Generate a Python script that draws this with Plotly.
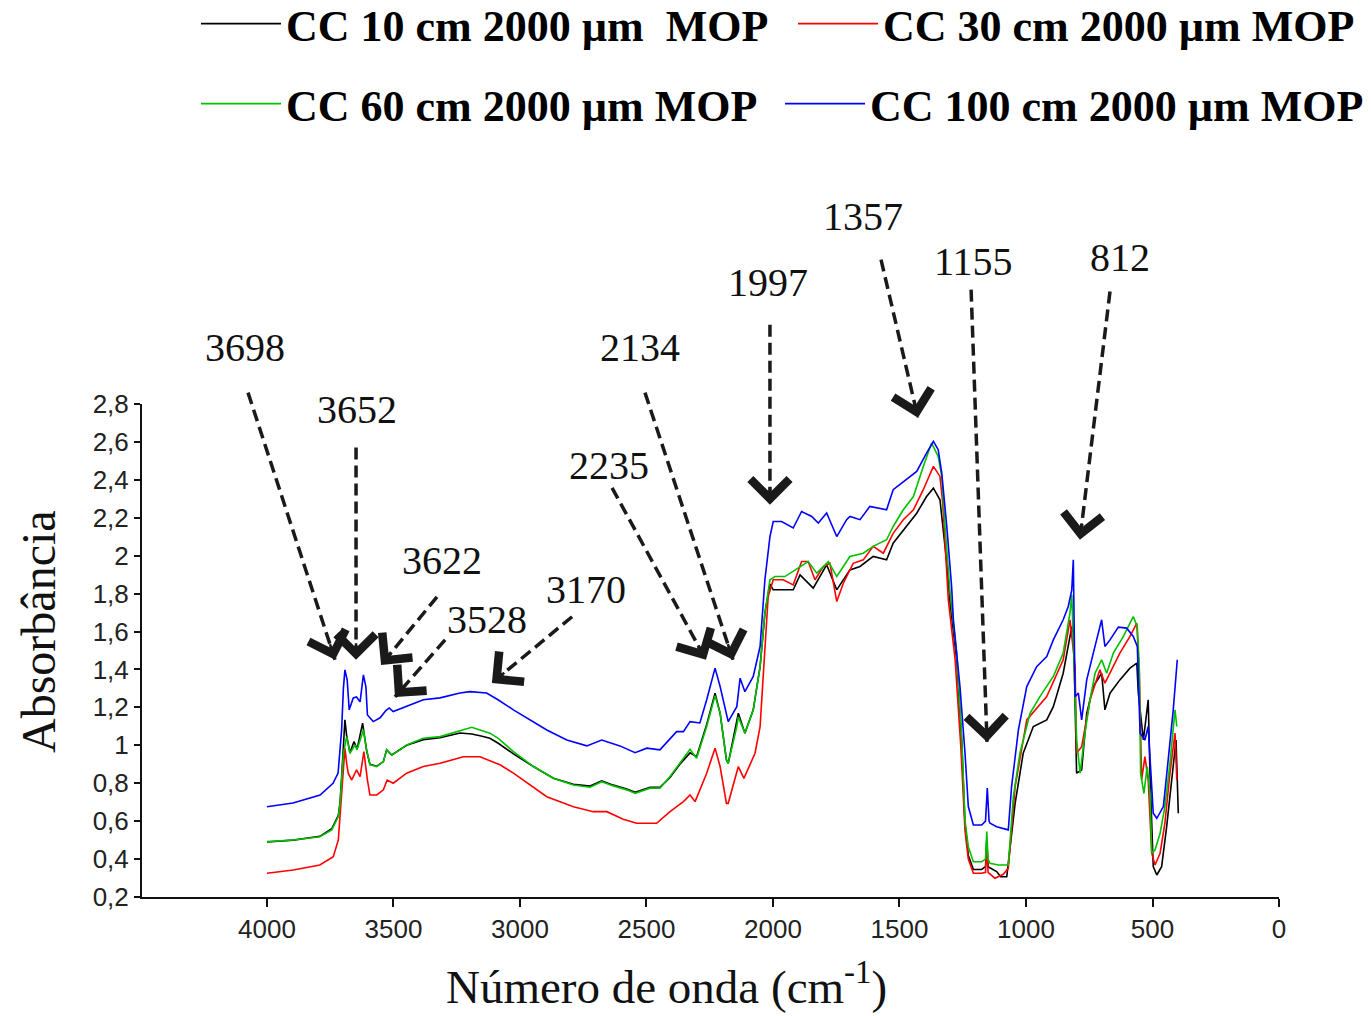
import plotly.graph_objects as go

# ---------------- data ----------------
series_names = ["CC 10 cm 2000 µm\u00a0 MOP", "CC 30 cm 2000 µm MOP",
                "CC 60 cm 2000 µm MOP", "CC 100 cm 2000 µm MOP"]
series_colors = ["#000000", "#ff0000", "#00c000", "#0000ff"]

wn_black = [4000, 3896, 3791, 3744, 3718, 3711, 3705, 3698, 3692, 3685, 3672, 3656, 3644, 3622, 3606,
            3593, 3566, 3540, 3527, 3507, 3474, 3448, 3382, 3316, 3237, 3191, 3158, 3119, 3086, 3026,
            2947, 2868, 2789, 2723, 2677, 2631, 2578, 2545, 2486, 2447, 2407, 2368, 2328, 2302, 2262,
            2229, 2209, 2184, 2177, 2143, 2137, 2111, 2078, 2051, 2032, 2012, 1999, 1960, 1920, 1893,
            1841, 1788, 1748, 1696, 1656, 1604, 1551, 1525, 1472, 1432, 1393, 1366, 1340, 1329, 1313,
            1300, 1274, 1254, 1241, 1228, 1208, 1175, 1160, 1155, 1150, 1116, 1100, 1076, 1043, 1011,
            971, 918, 892, 853, 833, 819, 812, 806, 800, 780, 760, 734, 701, 688, 668, 629, 589, 562,
            556, 536, 517, 510, 497, 483, 464, 444, 424, 407, 398]
abs_black = [0.49, 0.50, 0.52, 0.56, 0.63, 0.70, 0.83, 0.99, 1.134, 1.05, 0.96, 1.02, 0.98, 1.117, 0.97,
             0.90, 0.89, 0.914, 0.976, 0.949, 0.976, 1.0, 1.03, 1.04, 1.065, 1.06, 1.05, 1.037, 1.011, 0.955,
             0.888, 0.826, 0.795, 0.785, 0.812, 0.79, 0.77, 0.752, 0.778, 0.778, 0.83, 0.90, 0.96, 0.94, 1.11,
             1.275, 1.169, 0.923, 0.905, 1.12, 1.169, 1.064, 1.187, 1.415, 1.697, 1.85, 1.82, 1.82, 1.82, 1.899,
             1.829, 1.952, 1.82, 1.925, 1.943, 1.996, 1.978, 2.066, 2.154, 2.224, 2.312, 2.356, 2.295, 2.154, 1.96,
             1.75, 1.45, 1.02, 0.58, 0.42, 0.345, 0.345, 0.36, 0.50, 0.36, 0.334, 0.307, 0.307, 0.694, 0.958,
             1.099, 1.134, 1.204, 1.38, 1.521, 1.626, 1.591, 1.257, 0.853, 0.87, 1.169, 1.31, 1.38, 1.187, 1.275,
             1.345, 1.407, 1.433, 1.275, 1.028, 1.24, 0.853, 0.36, 0.316, 0.36, 0.571, 0.817, 1.028, 0.642]

wn_red = [4000, 3896, 3791, 3738, 3718, 3705, 3692, 3685, 3679, 3665, 3646, 3632, 3617, 3603, 3593,
          3566, 3540, 3525, 3501, 3448, 3382, 3316, 3224, 3158, 3079, 3026, 2894, 2789, 2710, 2657,
          2592, 2539, 2460, 2407, 2354, 2328, 2308, 2262, 2229, 2209, 2184, 2177, 2137, 2115, 2071,
          2051, 2032, 2019, 1999, 1960, 1920, 1887, 1861, 1834, 1801, 1775, 1748, 1722, 1683, 1643,
          1604, 1564, 1525, 1485, 1445, 1406, 1366, 1340, 1329, 1307, 1280, 1258, 1241, 1228, 1208,
          1175, 1160, 1155, 1150, 1123, 1090, 1070, 1043, 997, 918, 853, 826, 806, 800, 780, 747, 708,
          688, 668, 629, 589, 562, 552, 543, 530, 517, 503, 490, 470, 451, 431, 411, 404]
abs_red = [0.325, 0.342, 0.369, 0.413, 0.501, 0.729, 0.985, 0.905, 0.853, 0.817, 0.87, 0.835, 0.967, 0.817, 0.738,
           0.738, 0.765, 0.817, 0.8, 0.853, 0.888, 0.905, 0.94, 0.94, 0.897, 0.853, 0.729, 0.676, 0.65, 0.65,
           0.61, 0.589, 0.589, 0.65, 0.703, 0.738, 0.703, 0.853, 0.985, 0.888, 0.694, 0.694, 0.888, 0.826, 0.958,
           1.099, 1.521, 1.785, 1.873, 1.873, 1.846, 1.969, 1.969, 1.873, 1.943, 1.96, 1.758, 1.855, 1.96, 1.978,
           2.049, 2.013, 2.118, 2.19, 2.242, 2.348, 2.471, 2.418, 2.277, 1.767, 1.45, 1.0, 0.55, 0.40, 0.325,
           0.325, 0.33, 0.492, 0.33, 0.299, 0.32, 0.351, 0.782, 1.134, 1.257, 1.451, 1.662, 1.415, 0.958, 0.993, 1.24, 1.398,
           1.328, 1.38, 1.486, 1.574, 1.644, 1.38, 0.817, 0.94, 0.817, 0.431, 0.369, 0.431, 0.589, 0.853, 1.064, 0.817]

wn_green = [4000, 3896, 3791, 3744, 3718, 3711, 3705, 3698, 3685, 3672, 3652, 3644, 3619, 3606, 3593,
            3566, 3540, 3527, 3507, 3474, 3448, 3382, 3316, 3237, 3191, 3158, 3119, 3086, 3026, 2947,
            2868, 2789, 2723, 2677, 2631, 2578, 2545, 2486, 2447, 2407, 2368, 2328, 2302, 2262, 2229,
            2209, 2184, 2177, 2143, 2137, 2111, 2078, 2051, 2032, 2012, 1992, 1953, 1893, 1861, 1827,
            1781, 1748, 1696, 1643, 1604, 1551, 1525, 1485, 1445, 1406, 1373, 1347, 1333, 1320, 1300,
            1274, 1254, 1241, 1228, 1208, 1175, 1160, 1155, 1150, 1142, 1109, 1070, 1050, 1024, 984,
            945, 892, 853, 826, 819, 800, 786, 767, 747, 727, 701, 681, 655, 615, 576, 560, 552, 547,
            534, 521, 510, 503, 490, 470, 451, 431, 411, 404]
abs_green = [0.492, 0.501, 0.518, 0.554, 0.624, 0.694, 0.817, 0.958, 1.046, 0.958, 1.002, 0.976, 1.081, 0.976, 0.897,
             0.888, 0.914, 0.976, 0.949, 0.976, 1.002, 1.037, 1.046, 1.077, 1.095, 1.081, 1.064, 1.037, 0.967, 0.888,
             0.826, 0.791, 0.779, 0.808, 0.786, 0.765, 0.747, 0.774, 0.774, 0.835, 0.906, 0.979, 0.932, 1.099, 1.262,
             1.169, 0.923, 0.905, 1.099, 1.15, 1.064, 1.187, 1.415, 1.697, 1.873, 1.89, 1.89, 1.943, 1.969, 1.908,
             1.969, 1.89, 1.996, 2.013, 2.049, 2.084, 2.154, 2.242, 2.312, 2.47, 2.594, 2.523, 2.418, 2.154, 1.803,
             1.486, 1.046, 0.606, 0.465, 0.386, 0.386, 0.40, 0.545, 0.40, 0.378, 0.369, 0.369, 0.729, 0.958, 1.169,
             1.257, 1.363, 1.486, 1.70, 1.794, 1.028, 0.853, 1.064, 1.24, 1.38, 1.451, 1.38, 1.486, 1.574, 1.679,
             1.626, 1.398, 0.853, 0.747, 0.888, 0.747, 0.431, 0.448, 0.536, 0.677, 0.906, 1.187, 1.099]

wn_blue = [4000, 3897, 3790, 3739, 3719, 3711, 3705, 3698, 3692, 3683, 3675, 3659, 3646, 3632, 3619,
           3609, 3603, 3580, 3553, 3530, 3517, 3501, 3448, 3382, 3316, 3237, 3198, 3132, 3087, 3026,
           2894, 2815, 2736, 2677, 2605, 2545, 2499, 2447, 2381, 2354, 2328, 2289, 2262, 2229, 2209,
           2177, 2143, 2130, 2111, 2078, 2051, 2032, 2012, 1999, 1966, 1920, 1887, 1847, 1821, 1788,
           1748, 1709, 1696, 1656, 1617, 1551, 1525, 1472, 1432, 1393, 1366, 1347, 1333, 1313, 1294,
           1287, 1261, 1241, 1228, 1208, 1175, 1160, 1153, 1146, 1142, 1116, 1070, 1057, 1030, 997,
           958, 918, 892, 853, 833, 819, 813, 806, 793, 780, 760, 734, 701, 688, 668, 635, 602, 576,
           560, 549, 530, 517, 510, 497, 483, 457, 438, 418, 402]
abs_blue = [0.676, 0.696, 0.738, 0.80, 0.854, 0.976, 1.08, 1.30, 1.398, 1.345, 1.187, 1.25, 1.255, 1.229, 1.371,
            1.308, 1.16, 1.125, 1.145, 1.183, 1.197, 1.178, 1.204, 1.24, 1.25, 1.276, 1.283, 1.276, 1.24, 1.187,
            1.081, 1.028, 0.997, 1.028, 0.997, 0.961, 0.985, 0.976, 1.072, 1.072, 1.125, 1.118, 1.24, 1.407, 1.31,
            1.125, 1.204, 1.354, 1.283, 1.363, 1.521, 1.873, 2.101, 2.18, 2.18, 2.146, 2.233, 2.207, 2.172, 2.225,
            2.101, 2.19, 2.207, 2.19, 2.26, 2.242, 2.348, 2.4, 2.444, 2.541, 2.603, 2.559, 2.436, 2.154, 1.837,
            1.662, 1.31, 0.958, 0.677, 0.58, 0.58, 0.60, 0.774, 0.60, 0.589, 0.571, 0.554, 0.782, 1.081, 1.31,
            1.415, 1.468, 1.556, 1.662, 1.732, 1.82, 1.978, 1.257, 1.275, 1.134, 1.345, 1.486, 1.662, 1.521, 1.556,
            1.623, 1.618, 1.574, 1.521, 1.064, 1.028, 1.099, 0.958, 0.642, 0.615, 0.677, 0.923, 1.187, 1.451]

x_tick_vals = [4000, 3500, 3000, 2500, 2000, 1500, 1000, 500, 0]
y_tick_vals = [0.2, 0.4, 0.6, 0.8, 1.0, 1.2, 1.4, 1.6, 1.8, 2.0, 2.2, 2.4, 2.6, 2.8]
y_tick_text = ["0,2", "0,4", "0,6", "0,8", "1", "1,2", "1,4", "1,6", "1,8", "2", "2,2", "2,4", "2,6", "2,8"]

peak_labels = ["3698", "3652", "3622", "3528", "3170", "2235", "2134", "1997", "1357", "1155", "812"]

# ---------------- annotation geometry (data coordinates) ----------------
# (tip wavenumber, tip absorbance, tail wavenumber, tail absorbance, label wavenumber, label absorbance)
arrow_geom = [
    (3731, 1.451, 4075, 2.86, 4087, 3.10),
    (3648, 1.451, 3648, 2.57, 3645, 2.77),
    (3549, 1.424, 3328, 1.783, 3308, 1.973),
    (3494, 1.255, 3296, 1.556, 3130, 1.662),
    (3111, 1.329, 2794, 1.678, 2739, 1.82),
    (2265, 1.451, 2636, 2.358, 2648, 2.474),
    (2158, 1.451, 2506, 2.86, 2526, 3.10),
    (2012, 2.269, 2012, 3.218, 2020, 3.44),
    (1427, 2.728, 1573, 3.561, 1644, 3.788),
    (1154, 1.018, 1217, 3.403, 1209, 3.55),
    (787, 2.084, 668, 3.393, 628, 3.572),
]

# ---------------- layout constants ----------------
W, H = 1371, 1016
ML, MR, MT, MB = 142, 92, 404, 119
X_RANGE = [4494, 0]
Y_RANGE = [0.2, 2.8]
PW, PH = W - ML - MR, H - MT - MB

serif = "Liberation Serif, Times New Roman, serif"
sans = "Liberation Sans, Arial, sans-serif"

# legend slots: (left pixel of the legend box, vertical centre pixel)
legend_slots = [(196, 24), (793, 24), (196, 104), (780, 104)]
legend_ids = ["legend", "legend2", "legend3", "legend4"]

fig = go.Figure()
all_series = [(wn_black, abs_black), (wn_red, abs_red), (wn_green, abs_green), (wn_blue, abs_blue)]
for (wn, ab), name, col, lg in zip(all_series, series_names, series_colors, legend_ids):
    fig.add_trace(go.Scatter(x=wn, y=ab, mode="lines", name=name, legend=lg,
                             line=dict(color=col, width=1.6)))


def to_paper(w, a):
    return (X_RANGE[0] - w) / (X_RANGE[0] - X_RANGE[1]), (a - Y_RANGE[0]) / (Y_RANGE[1] - Y_RANGE[0])


sx = PW / (X_RANGE[0] - X_RANGE[1])
sy = PH / (Y_RANGE[1] - Y_RANGE[0])
shapes = []
annotations = []
for (tw, ta, lw, la, xw, xa), txt in zip(arrow_geom, peak_labels):
    x0, y0 = to_paper(lw, la)
    x1, y1 = to_paper(tw, ta)
    shapes.append(dict(type="line", xref="paper", yref="paper", x0=x0, y0=y0, x1=x1, y1=y1,
                       line=dict(color="#1a1a1a", width=3.5, dash="12px,6px")))
    dx = -(lw - tw) * sx
    dy = -(la - ta) * sy
    ln = (dx ** 2 + dy ** 2) ** 0.5
    L = 18
    annotations.append(dict(x=tw, y=ta, xref="x", yref="y", text="", showarrow=True,
                            ax=dx / ln * L, ay=dy / ln * L, arrowhead=4, arrowsize=2.9,
                            arrowwidth=2.6, arrowcolor="#1a1a1a", standoff=0))
    px_, py_ = to_paper(xw, xa)
    annotations.append(dict(x=px_, y=py_, xref="paper", yref="paper", text=txt, showarrow=False,
                            xanchor="center", yanchor="middle",
                            font=dict(family=serif, size=40, color="#111111")))

annotations.append(dict(x=(38 - ML) / PW, y=(H - MB - 632) / PH, xref="paper", yref="paper",
                        text="Absorbância", textangle=-90, showarrow=False,
                        xanchor="center", yanchor="middle",
                        font=dict(family=serif, size=48, color="#111111")))
annotations.append(dict(x=(666 - ML) / PW, y=(H - MB - 1015) / PH, xref="paper", yref="paper",
                        text="Número de onda (cm<sup>-1</sup>)", showarrow=False,
                        xanchor="center", yanchor="bottom",
                        font=dict(family=serif, size=47, color="#111111")))

legend_layout = {}
for lg, (lx, ly) in zip(legend_ids, legend_slots):
    legend_layout[lg] = dict(orientation="h", xanchor="left", yanchor="middle",
                             x=(lx - ML) / PW, y=(H - MB - ly) / PH,
                             itemwidth=80, bgcolor="rgba(0,0,0,0)", borderwidth=0,
                             font=dict(family=serif, size=44, color="#000000", weight="bold"),
                             itemclick=False, itemdoubleclick=False)

fig.update_layout(
    width=W, height=H,
    margin=dict(l=ML, r=MR, t=MT, b=MB, pad=0, autoexpand=False),
    paper_bgcolor="white", plot_bgcolor="white",
    showlegend=True,
    xaxis=dict(range=X_RANGE, tickvals=x_tick_vals, ticktext=[str(v) for v in x_tick_vals],
               showline=True, linecolor="#111111", linewidth=2, ticks="outside", ticklen=8,
               tickwidth=2, tickcolor="#111111", showgrid=False, zeroline=False,
               tickfont=dict(family=sans, size=26, color="#222222")),
    yaxis=dict(range=Y_RANGE, tickvals=y_tick_vals, ticktext=y_tick_text,
               showline=True, linecolor="#111111", linewidth=2, ticks="outside", ticklen=6,
               tickwidth=2, tickcolor="#111111", showgrid=False, zeroline=False,
               tickfont=dict(family=sans, size=26, color="#222222")),
    shapes=shapes, annotations=annotations,
    **legend_layout,
)

fig.write_html("out.html")
